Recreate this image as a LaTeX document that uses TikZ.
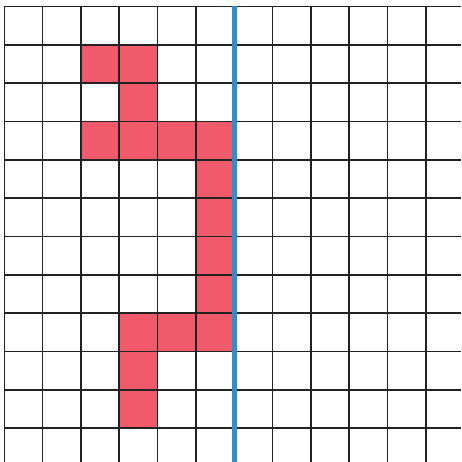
\documentclass[tikz,border=0pt]{standalone}
\definecolor{cellred}{RGB}{240,90,106}
\definecolor{lineblue}{RGB}{52,140,208}
\definecolor{gridline}{RGB}{34,34,34}
\begin{document}
\begin{tikzpicture}[x=1pt,y=-1pt,
  cell/.style={fill=cellred,draw=none},
  gridrule/.style={draw=gridline,line width=1.6pt},
  divider/.style={draw=lineblue,line width=5pt}]
\useasboundingbox (0,0) rectangle (461,462);
\fill[white] (0,0) rectangle (461,462);
\def\s{38.33}
\def\xo{4.3}
\def\yo{6.5}
% red cells: (col,row)
\foreach \c/\r in {2/1,3/1,3/2,2/3,3/3,4/3,5/3,5/4,5/5,5/6,5/7,3/8,4/8,5/8,3/9,3/10}{
  \path[cell] ({\xo+\c*\s},{\yo+\r*\s}) rectangle ({\xo+(\c+1)*\s},{\yo+(\r+1)*\s});
}
% grid
\foreach \k in {0,...,11}{
  \draw[gridrule] ({\xo+\k*\s},\yo) -- ({\xo+\k*\s},462);
  \draw[gridrule] (\xo,{\yo+\k*\s}) -- (461,{\yo+\k*\s});
}
% blue divider
\draw[divider] ({\xo+6*\s},\yo) -- ({\xo+6*\s},462);
\end{tikzpicture}
\end{document}
